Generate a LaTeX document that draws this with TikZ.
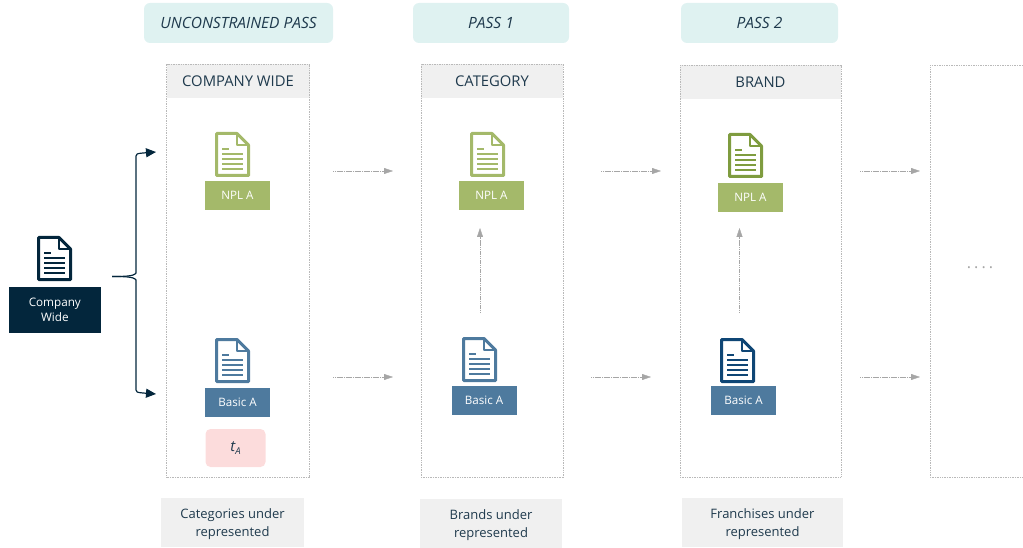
\documentclass[tikz,border=0pt]{standalone}
\usepackage{fontspec}
\setmainfont{Open Sans}
\usetikzlibrary{arrows.meta}
\definecolor{navy}{HTML}{03263C}
\definecolor{inktext}{HTML}{1F3A4D}
\definecolor{leaf}{HTML}{A4B96A}
\definecolor{leafdark}{HTML}{7F9C3F}
\definecolor{steel}{HTML}{4E7A9E}
\definecolor{deepblue}{HTML}{0F4675}
\definecolor{mist}{HTML}{DFF2F1}
\definecolor{paleg}{HTML}{F0F0F0}
\definecolor{blush}{HTML}{FCDCDC}
\definecolor{hop}{HTML}{A6A6A6}
\begin{document}
\begin{tikzpicture}[x=1pt,y=-1pt]

\useasboundingbox (0,0) rectangle (1023,548);

% node style definition
\tikzstyle{pass} = [
	fill=mist, rounded corners=6pt, inner sep=0pt, text=inktext,
	minimum height=40pt, font=\fontsize{15.5}{18}\selectfont\itshape ];
\tikzstyle{colbox} = [
	draw=gray!55, dash pattern=on 1pt off .7pt, inner sep=0pt, minimum height=413pt ];
\tikzstyle{header} = [
	fill=paleg, inner sep=0pt, text=inktext, minimum height=34pt,
	font=\fontsize{14.8}{16}\selectfont ];
\tikzstyle{tag} = [
	inner sep=0pt, text=white, minimum width=65pt, minimum height=29pt,
	font=\fontsize{11.6}{13}\selectfont ];
\tikzstyle{note} = [
	fill=paleg, inner sep=0pt, text=inktext, align=center, minimum height=49pt,
	font=\fontsize{13}{18}\selectfont ];
\tikzstyle{hoparrow} = [
	hop, dash pattern=on 1.3pt off .5pt, -{Triangle[length=9pt,width=6pt,fill=hop]} ];
\tikzstyle{feed} = [
	navy, line width=1.2pt, -{Triangle[length=10pt,width=9pt,fill=navy]} ];

% pushes the first line of a note down
\def\lift{\rule{0pt}{14pt}}

% document icon: name, left, top, colour
\def\docicon#1#2#3#4{
	\begin{scope}[shift={(#2,#3)}, #4]
	\coordinate (#1) at (17.5,0);
	\draw[line width=3pt, line join=round, fill=white]
		(1.5,1.5) -- (22,1.5) -- (33.5,13) -- (33.5,43.5) -- (1.5,43.5) -- cycle;
	\draw[line width=2.6pt, line join=round] (22,1.5) -- (22,13) -- (33.5,13);
	\fill (7,16) rectangle (14,18.2);
	\fill (7,20.6) rectangle (28,23.2);
	\fill (7,25.6) rectangle (28,28.2);
	\fill (7,30.6) rectangle (28,33.2);
	\fill (7,35.6) rectangle (28,38.2);
	\end{scope}
}

% passes
\node[pass,minimum width=189pt] (p0) at (238.5,23) {UNCONSTRAINED PASS};
\node[pass,minimum width=156pt] (p1) at (491,23) {PASS 1};
\node[pass,minimum width=157pt] (p2) at (759.5,23) {PASS 2};

% columns
\node[header,minimum width=143pt] (h0) at (238,81) {COMPANY WIDE};
\node[header,minimum width=142pt] (h1) at (492,81) {CATEGORY};
\node[header,minimum width=161pt] (h2) at (760.5,82) {BRAND};
\node[colbox,minimum width=143pt] (c0) at (238,270.5) {};
\node[colbox,minimum width=142pt] (c1) at (492,270.5) {};
\node[colbox,minimum width=161pt,minimum height=412pt] (c2) at (760.5,271) {};
\draw[gray!55,dash pattern=on 1pt off .7pt] (1023,65) -- (930,65) -- (930,477) -- (1023,477);
\node[text=hop,font=\fontsize{16}{18}\selectfont] (c3) at (980,268) {.\kern3pt.\kern3pt.\kern3pt.};

% left side
\docicon{d}{37}{236}{navy}
\node[tag,fill=navy,minimum width=92.5pt,minimum height=46pt,align=center,
	font=\fontsize{11.7}{15}\selectfont] (co) at (54.8,309.5) {Company\\Wide};

% green documents
\docicon{n0}{215}{132}{leaf}
\docicon{n1}{470}{132}{leaf}
\docicon{n2}{728}{133}{leafdark}
\node[tag,fill=leaf] (a0) at (237.5,195.5) {NPL A\hspace{7pt}};
\node[tag,fill=leaf] (a1) at (491.5,195.5) {NPL A\hspace{7pt}};
\node[tag,fill=leaf] (a2) at (750.5,197.5) {NPL A\hspace{7pt}};

% blue documents
\docicon{b0}{215}{338}{steel}
\docicon{b1}{462}{337}{steel}
\docicon{b2}{720}{338}{deepblue}
\node[tag,fill=steel] (e0) at (237.5,402.5) {Basic A};
\node[tag,fill=steel] (e1) at (484,400.5) {Basic A};
\node[tag,fill=steel] (e2) at (743.5,400.5) {Basic A};
\node[fill=blush,rounded corners=5pt,inner sep=0pt,minimum width=60pt,minimum height=38pt,
	text=inktext,font=\fontsize{15}{16}\selectfont\itshape] (t0) at (235.5,448) {t\raisebox{-3pt}{\fontsize{9.5}{10}\selectfont A}};

% notes
\node[note,minimum width=143pt] (f0) at (232.5,522.5) {\lift Categories under\\represented};
\node[note,minimum width=142pt] (f1) at (491,523.5) {\lift Brands under\\represented};
\node[note,minimum width=161pt] (f2) at (762.5,522.5) {\lift Franchises under\\represented};

% brace
\coordinate (br) at (112,276.5);
\coordinate (up) at (156,152);
\coordinate (dn) at (156,394);
\draw[feed] (br) .. controls (123,276.5) and (134,276.5) .. (136,273) -- (136,156)
	.. controls (136,154) and (137,153.5) .. (143,153) -- (up);
\draw[feed] (br) .. controls (123,276.5) and (134,276.5) .. (136,280) -- (136,390)
	.. controls (136,392) and (137,392.5) .. (143,393) -- (dn);

% top row
\coordinate (s1) at (333,171);
\coordinate (s2) at (393,171);
\coordinate (s3) at (601,171);
\coordinate (s4) at (661,171);
\coordinate (s5) at (860,171);
\coordinate (s6) at (920,171);
\draw[hoparrow] (s1) -- (s2);
\draw[hoparrow] (s3) -- (s4);
\draw[hoparrow] (s5) -- (s6);

% bottom row
\coordinate (r1) at (333,377);
\coordinate (r2) at (393,377);
\coordinate (r3) at (591,377);
\coordinate (r4) at (651,377);
\coordinate (r5) at (860,377);
\coordinate (r6) at (920,377);
\draw[hoparrow] (r1) -- (r2);
\draw[hoparrow] (r3) -- (r4);
\draw[hoparrow] (r5) -- (r6);

% basic to npl
\coordinate (v1) at (480,313);
\coordinate (w1) at (480,228);
\coordinate (v2) at (739.5,313);
\coordinate (w2) at (739.5,228);
\draw[hoparrow] (v1) -- (w1);
\draw[hoparrow] (v2) -- (w2);

\end{tikzpicture}
\end{document}
